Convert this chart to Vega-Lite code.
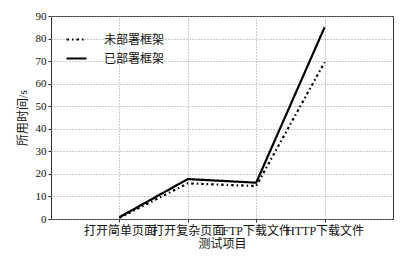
{
  "$schema": "https://vega.github.io/schema/vega-lite/v6.json",
  "autosize": "none",
  "width": 342,
  "height": 203,
  "padding": {"left": 51, "top": 16, "right": 20, "bottom": 37},
  "background": "white",
  "config": {
    "font": "Liberation Serif, Noto Sans CJK SC",
    "view": {"stroke": "#333333", "strokeWidth": 1}
  },
  "data": {
    "values": [
      {"item": "打开简单页面", "series": "未部署框架", "time": 0.5},
      {"item": "打开复杂页面", "series": "未部署框架", "time": 15.8},
      {"item": "FTP下载文件", "series": "未部署框架", "time": 14.6},
      {"item": "HTTP下载文件", "series": "未部署框架", "time": 69.5},
      {"item": "打开简单页面", "series": "已部署框架", "time": 0.8},
      {"item": "打开复杂页面", "series": "已部署框架", "time": 17.7},
      {"item": "FTP下载文件", "series": "已部署框架", "time": 16.1},
      {"item": "HTTP下载文件", "series": "已部署框架", "time": 85}
    ]
  },
  "mark": {"type": "line", "color": "black", "strokeWidth": 2.2},
  "encoding": {
    "x": {
      "field": "item",
      "type": "nominal",
      "sort": ["打开简单页面", "打开复杂页面", "FTP下载文件", "HTTP下载文件"],
      "scale": {"type": "point", "padding": 1},
      "axis": {
        "title": "测试项目",
        "titleFontSize": 12,
        "titleFontWeight": "normal",
        "titleColor": "#111",
        "titlePadding": 2,
        "labelAngle": 0,
        "labelFontSize": 12,
        "labelColor": "#111",
        "labelPadding": 3,
        "labelOverlap": false,
        "grid": true,
        "gridDash": [1, 2],
        "gridColor": "#999",
        "gridWidth": 1,
        "domain": false,
        "tickSize": 3,
        "tickColor": "#333"
      }
    },
    "y": {
      "field": "time",
      "type": "quantitative",
      "scale": {"domain": [0, 90], "nice": false},
      "axis": {
        "title": "所用时间/s",
        "titleFontSize": 12,
        "titleFontWeight": "normal",
        "titleColor": "#111",
        "titlePadding": 6,
        "values": [0, 10, 20, 30, 40, 50, 60, 70, 80, 90],
        "labelFontSize": 11,
        "labelColor": "#111",
        "labelPadding": 2,
        "grid": true,
        "gridDash": [1, 2],
        "gridColor": "#999",
        "gridWidth": 1,
        "domain": false,
        "tickSize": 3,
        "tickColor": "#333"
      }
    },
    "strokeDash": {
      "field": "series",
      "type": "nominal",
      "scale": {"domain": ["未部署框架", "已部署框架"], "range": [[2.5, 3, 1.5, 3], [1, 0]]},
      "legend": {
        "title": null,
        "orient": "none",
        "legendX": 14,
        "legendY": 12,
        "symbolType": "stroke",
        "symbolSize": 400,
        "symbolStrokeWidth": 2.2,
        "symbolStrokeColor": "black",
        "labelFontSize": 12,
        "labelColor": "#111",
        "labelOffset": 16,
        "rowPadding": 1
      }
    }
  }
}
